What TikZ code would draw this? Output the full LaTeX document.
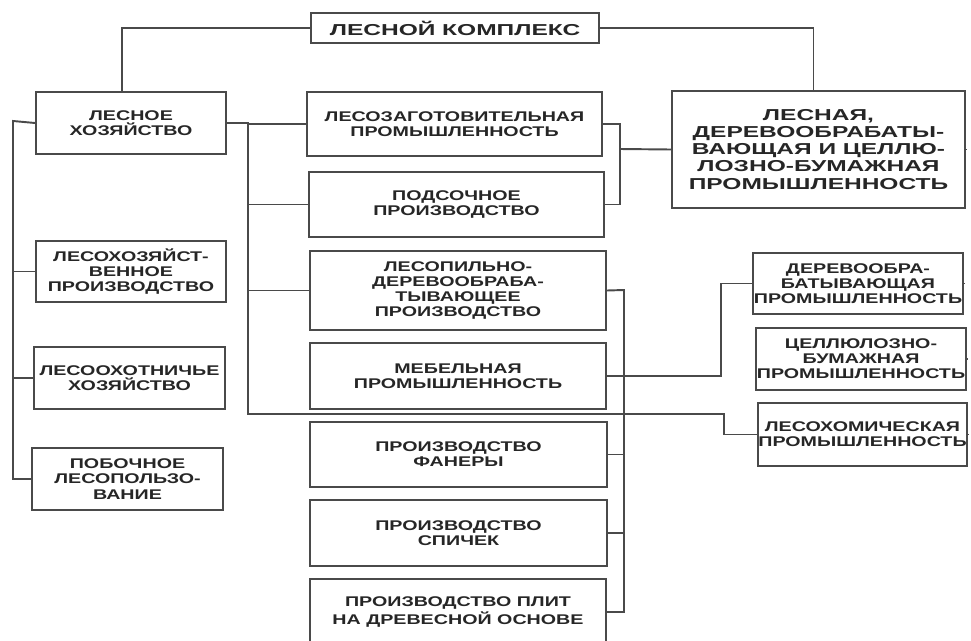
\documentclass[tikz,border=0pt]{standalone}
\usepackage{fontspec}
\newfontfamily\blokfont[FakeStretch=1.4]{Liberation Sans}
\newfontfamily\shirfont[FakeStretch=1.55]{Liberation Sans}
\usepackage{tikz}
\definecolor{liniya}{HTML}{4A4A4A}
\tikzset{
  blok/.style={draw=liniya, line width=1.1pt, inner sep=0pt, align=center,
    text=black!85, font=\blokfont\bfseries\fontsize{8}{8.6}\selectfont},
  bolshoi/.style={blok, font=\shirfont\bfseries\fontsize{9}{9.7}\selectfont},
  svyaz/.style={draw=liniya, line width=1.1pt}
}

\begin{document}
\begin{tikzpicture}[x=0.02cm, y=-0.02cm]
\useasboundingbox (0,0) rectangle (971,640);
\clip (0,0) rectangle (971,640);
\fill[white] (0,0) rectangle (971,640);
\node[bolshoi, minimum width=5.76cm, minimum height=0.6cm] (kompleks) at (455,28) {ЛЕСНОЙ КОМПЛЕКС};
\node[blok, minimum width=3.8cm, minimum height=1.24cm] (lesxoz) at (131,123) {ЛЕСНОЕ\\ХОЗЯЙСТВО};
\node[blok, minimum width=3.8cm, minimum height=1.22cm] (lesproizv) at (131,271.5) {ЛЕСОХОЗЯЙСТ-\\ВЕННОЕ\\ПРОИЗВОДСТВО};
\node[blok, minimum width=3.82cm, minimum height=1.24cm] (oxota) at (129.5,378) {ЛЕСООХОТНИЧЬЕ\\ХОЗЯЙСТВО};
\node[blok, minimum width=3.82cm, minimum height=1.24cm] (pobochnoe) at (127.5,479) {ПОБОЧНОЕ\\ЛЕСОПОЛЬЗО-\\ВАНИЕ};
\node[blok, minimum width=5.9cm, minimum height=1.28cm] (zagotovka) at (454.5,124) {ЛЕСОЗАГОТОВИТЕЛЬНАЯ\\ПРОМЫШЛЕННОСТЬ};
\node[blok, minimum width=5.9cm, minimum height=1.3cm] (podsochka) at (456.5,204.5) {ПОДСОЧНОЕ\\ПРОИЗВОДСТВО};
\node[blok, minimum width=5.92cm, minimum height=1.58cm] (lesopil) at (458,290.5) {ЛЕСОПИЛЬНО-\\ДЕРЕВООБРАБА-\\ТЫВАЮЩЕЕ\\ПРОИЗВОДСТВО};
\node[blok, minimum width=5.92cm, minimum height=1.32cm] (mebel) at (458,376) {МЕБЕЛЬНАЯ\\ПРОМЫШЛЕННОСТЬ};
\node[blok, minimum width=5.94cm, minimum height=1.3cm] (fanera) at (458.5,454.5) {ПРОИЗВОДСТВО\\ФАНЕРЫ};
\node[blok, minimum width=5.94cm, minimum height=1.32cm] (spichki) at (458.5,533) {ПРОИЗВОДСТВО\\СПИЧЕК};
\node[blok, minimum width=5.92cm, minimum height=1.32cm] (plity) at (458,612) {ПРОИЗВОДСТВО ПЛИТ\\НА ДРЕВЕСНОЙ ОСНОВЕ};
\node[bolshoi, minimum width=5.86cm, minimum height=2.34cm] (lesprom) at (818.5,149.5) {ЛЕСНАЯ,\\ДЕРЕВООБРАБАТЫ-\\ВАЮЩАЯ И ЦЕЛЛЮ-\\ЛОЗНО-БУМАЖНАЯ\\ПРОМЫШЛЕННОСТЬ};
\node[blok, minimum width=4.2cm, minimum height=1.22cm] (derevo) at (858,283.5) {ДЕРЕВООБРА-\\БАТЫВАЮЩАЯ\\ПРОМЫШЛЕННОСТЬ};
\node[blok, minimum width=4.2cm, minimum height=1.24cm] (cellyuloza) at (861,359) {ЦЕЛЛЮЛОЗНО-\\БУМАЖНАЯ\\ПРОМЫШЛЕННОСТЬ};
\node[blok, minimum width=4.18cm, minimum height=1.26cm] (lesoxim) at (862.5,434.5) {ЛЕСОХОМИЧЕСКАЯ\\ПРОМЫШЛЕННОСТЬ};
\coordinate (levshina) at (13,121);
\coordinate (srshina) at (248,414);
\coordinate (povorot) at (724,414);
\coordinate (prshina) at (620,149);
\coordinate (nizshina) at (624,290);
\coordinate (mebpovorot) at (721,376);
\draw[svyaz] (kompleks.west) -| ([xshift=-0.18cm]lesxoz.north);
\draw[svyaz] (kompleks.east) -| ([xshift=-0.1cm]lesprom.north);
\draw[svyaz] (lesxoz.west) -- (levshina) |- (pobochnoe.west);
\draw[svyaz] (lesproizv.west) -- (lesproizv.west -| levshina);
\draw[svyaz] (oxota.west) -- (oxota.west -| levshina);
\draw[svyaz] (lesxoz.east) -| (srshina) -- (povorot) |- (lesoxim.west);
\draw[svyaz] (zagotovka.west) -- (zagotovka.west -| srshina);
\draw[svyaz] (podsochka.west) -- (podsochka.west -| srshina);
\draw[svyaz] (lesopil.west) -- (lesopil.west -| srshina);
\draw[svyaz] (zagotovka.east) -| (prshina) |- (podsochka.east);
\draw[svyaz] (prshina) -- (lesprom.west);
\draw[svyaz] (lesopil.east) -- (nizshina) |- (plity.east);
\draw[svyaz] (fanera.east) -- (fanera.east -| nizshina);
\draw[svyaz] (spichki.east) -- (spichki.east -| nizshina);
\draw[svyaz] (mebel.east) -- (mebpovorot) |- (derevo.west);
\draw[svyaz] (lesprom.east) -- ++(0.2,0);
\draw[svyaz] (derevo.east) -- ++(0.2,0);
\draw[svyaz] (cellyuloza.east) -- ++(0.2,0);
\draw[svyaz] (lesoxim.east) -- ++(0.2,0);
\end{tikzpicture}
\end{document}
